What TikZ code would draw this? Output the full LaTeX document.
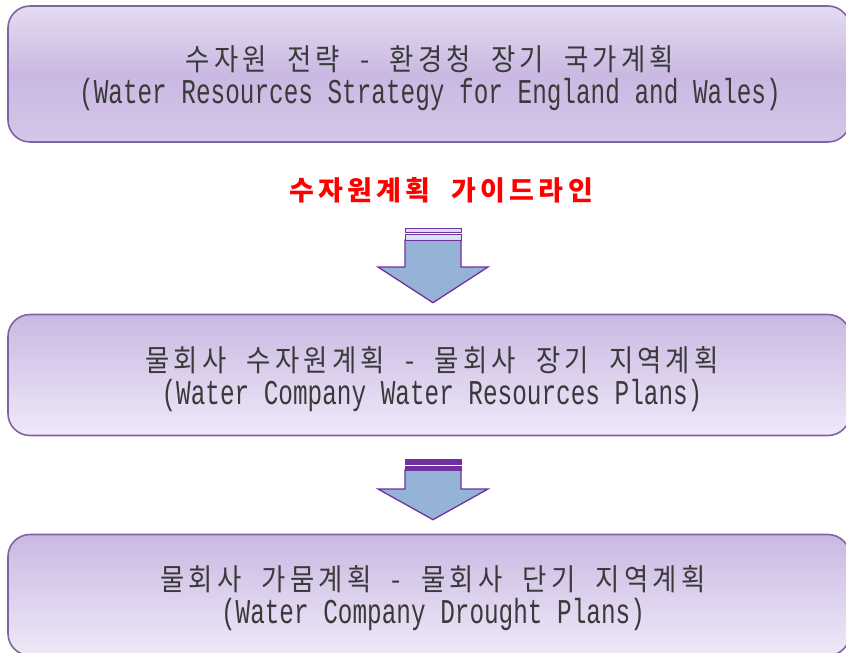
\documentclass[tikz,border=0pt]{standalone}
\usepackage{fontspec}
\usepackage{tikz}
\usetikzlibrary{positioning,calc}

\newfontfamily\krfont[FakeStretch=0.88,LetterSpace=14,WordSpace=2]{Noto Sans CJK KR}
\newfontfamily\guidefont[LetterSpace=16,WordSpace=2]{Noto Sans CJK KR}
\newfontfamily\enfont[FakeStretch=0.7]{Liberation Mono}
\newcommand{\krline}{\krfont\fontsize{30}{38}\selectfont}
\newcommand{\enline}{\enfont\fontsize{34.8}{38}\selectfont}

\definecolor{boxline}{HTML}{8064A2}
\definecolor{boxlight}{HTML}{EFE9F8}
\definecolor{boxtop}{HTML}{E4DCF1}
\definecolor{boxdark}{HTML}{CAB8E2}
\definecolor{boxmid}{HTML}{D4C6E9}
\definecolor{arrowfill}{HTML}{95B3D7}
\definecolor{arrowline}{HTML}{7030A0}
\definecolor{txt}{HTML}{3A3A3A}

\begin{document}
\begin{tikzpicture}[x=1pt,y=-1pt,
    stage/.style={draw=boxline,line width=1.6pt,rounded corners=22pt,
        minimum width=842pt,inner sep=0pt},
    national/.style={stage,minimum height=136pt,
        top color=boxtop,bottom color=boxmid,middle color=boxdark},
    regional/.style={stage,minimum height=121pt,
        top color=boxdark,bottom color=boxlight},
    stagetext/.style={align=center,text=txt,inner sep=0pt},
    guide/.style={text=red,font=\guidefont\bfseries\fontsize{27}{30}\selectfont},
    blockarrow/.style={fill=arrowfill,draw=arrowline,line width=1.3pt,line join=miter}]
    \useasboundingbox (0,0) rectangle (846,653);

    \node[national] (strategy) at (429,74) {};
    \node[stagetext] (strategytext) at ([xshift=1pt,yshift=-4pt]strategy.center)
        {\krline 수자원 전략 - 환경청 장기 국가계획\\[5pt]
         \enline (Water Resources Strategy for England and Wales)};
    \node[guide] (guideline) at (441,190) {수자원계획 가이드라인};
    \node[regional] (resources) at (429,375) {};
    \node[stagetext] (resourcestext) at ([xshift=3pt,yshift=-4pt]resources.center)
        {\krline 물회사 수자원계획 - 물회사 장기 지역계획\\[5pt]
         \enline (Water Company Water Resources Plans)};
    \node[regional] (drought) at (429,595) {};
    \node[stagetext] (droughttext) at ([xshift=4pt,yshift=-3pt]drought.center)
        {\krline 물회사 가뭄계획 - 물회사 단기 지역계획\\[5pt]
         \enline (Water Company Drought Plans)};

    % guideline -> resources
    \coordinate (a1) at (433,240);
    \draw[blockarrow] ($(a1)+(-28,0)$) -- ++(0,27) -- ++(-27,0) -- ($(resources.north)+(4,-11)$)
        -- ($(a1)+(55,27)$) -- ++(-27,0) -- ($(a1)+(28,0)$) -- cycle;
    \draw[fill=arrowfill!40,draw=arrowline,line width=1pt] ($(a1)+(-28,-12)$) rectangle ($(a1)+(28,-8)$);
    \draw[fill=arrowfill!40,draw=arrowline,line width=1pt] ($(a1)+(-28,-6)$) rectangle ($(a1)+(28,0)$);

    % resources -> drought
    \coordinate (a2) at (433,470);
    \draw[blockarrow] ($(a2)+(-28,0)$) -- ++(0,19) -- ++(-27,0) -- ($(drought.north)+(4,-14)$)
        -- ($(a2)+(55,19)$) -- ++(-27,0) -- ($(a2)+(28,0)$) -- cycle;
    \draw[fill=arrowline,draw=arrowline,line width=0.8pt] ($(a2)+(-28,-11)$) rectangle ($(a2)+(28,-6)$);
    \draw[fill=arrowline,draw=arrowline,line width=0.8pt] ($(a2)+(-28,-3.5)$) rectangle ($(a2)+(28,0)$);
\end{tikzpicture}
\end{document}
